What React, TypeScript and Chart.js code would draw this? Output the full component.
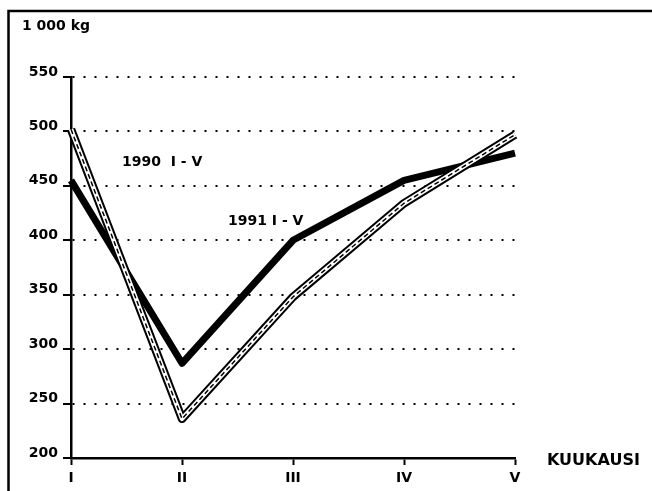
import React, { useEffect, useRef } from "react";
import { Chart, registerables } from "chart.js";

Chart.register(...registerables);

const months = ["I", "II", "III", "IV", "V"];
const values1990 = [502, 236, 348, 434, 497];
const values1991 = [455, 287, 400, 455, 480];
const yMin = 200;
const yMax = 550;
const yStep = 50;

const unitLabel = "1 000 kg";
const xTitle = "KUUKAUSI";
const label1990 = "1990  I - V";
const label1991 = "1991 I - V";

const FONT = "'DejaVu Sans', sans-serif";

const framePlugin = {
  id: "framePlugin",
  beforeDraw(chart: any) {
    const ctx = chart.ctx;
    ctx.save();
    ctx.fillStyle = "#ffffff";
    ctx.fillRect(0, 0, chart.width, chart.height);
    ctx.strokeStyle = "#000000";
    ctx.lineWidth = 2.5;
    ctx.strokeRect(8.5, 11, chart.width + 20, chart.height + 20);
    ctx.restore();
  },
  afterDraw(chart: any) {
    const ctx = chart.ctx;
    const area = chart.chartArea;
    ctx.save();
    ctx.fillStyle = "#000000";
    ctx.textBaseline = "alphabetic";
    ctx.textAlign = "left";
    ctx.font = `bold 14px ${FONT}`;
    ctx.fillText(unitLabel, 22, 30);
    ctx.fillText(label1990, area.left + 51, 166);
    ctx.fillText(label1991, area.left + 157, 225);
    ctx.font = `bold 16px ${FONT}`;
    ctx.fillText(xTitle, area.right + 32, area.bottom + 7);
    ctx.restore();
  },
};

export default function App() {
  const ref = useRef<HTMLCanvasElement | null>(null);

  useEffect(() => {
    if (!ref.current) return;
    const chart = new Chart(ref.current, {
      type: "line",
      data: {
        labels: months,
        datasets: [
          {
            label: "1990 dash",
            data: values1990,
            borderColor: "#000000",
            borderWidth: 1.5,
            borderDash: [5, 3],
            borderJoinStyle: "round",
            pointRadius: 0,
            tension: 0,
            order: 0,
          },
          {
            label: "1990 white",
            data: values1990,
            borderColor: "#ffffff",
            borderWidth: 4.5,
            borderJoinStyle: "round",
            pointRadius: 0,
            tension: 0,
            order: 1,
          },
          {
            label: "1990 outline",
            data: values1990,
            borderColor: "#000000",
            borderWidth: 8.5,
            borderJoinStyle: "round",
            pointRadius: 0,
            tension: 0,
            order: 2,
          },
          {
            label: "1991",
            data: values1991,
            borderColor: "#000000",
            borderWidth: 7,
            borderJoinStyle: "round",
            pointRadius: 0,
            tension: 0,
            order: 3,
          },
        ],
      },
      options: {
        responsive: false,
        animation: false,
        devicePixelRatio: 1,
        layout: { padding: { left: 0, top: 77, right: 137, bottom: 0 } },
        plugins: {
          legend: { display: false },
          tooltip: { enabled: false },
          title: { display: false },
        },
        scales: {
          x: {
            type: "category",
            offset: false,
            grid: {
              drawOnChartArea: false,
              drawTicks: true,
              tickLength: 7,
              tickColor: "#000000",
              tickWidth: 2,
            },
            border: { display: true, color: "#000000", width: 2.5 },
            ticks: {
              color: "#000000",
              padding: 5,
              font: { family: FONT, weight: "bold", size: 14 },
              maxRotation: 0,
              autoSkip: false,
            },
            afterFit: (scale: any) => {
              scale.height = 33;
            },
          },
          y: {
            min: yMin,
            max: yMax,
            grid: {
              drawOnChartArea: true,
              color: "#000000",
              lineWidth: 2,
              drawTicks: true,
              tickLength: 8,
              tickColor: "#000000",
              tickWidth: 2,
              tickBorderDash: [],
            },
            border: { display: true, color: "#000000", width: 2.5, dash: [2, 9] },
            ticks: {
              stepSize: yStep,
              color: "#000000",
              padding: 5,
              labelOffset: -5,
              font: { family: FONT, weight: "bold", size: 14 },
            },
            afterFit: (scale: any) => {
              scale.width = 71;
            },
          },
        },
      },
      plugins: [framePlugin],
    } as any);
    return () => chart.destroy();
  }, []);

  return (
    <div style={{ position: "absolute", left: 0, top: 0, width: 652, height: 491 }}>
      <canvas ref={ref} width={652} height={491} style={{ display: "block" }} />
    </div>
  );
}
